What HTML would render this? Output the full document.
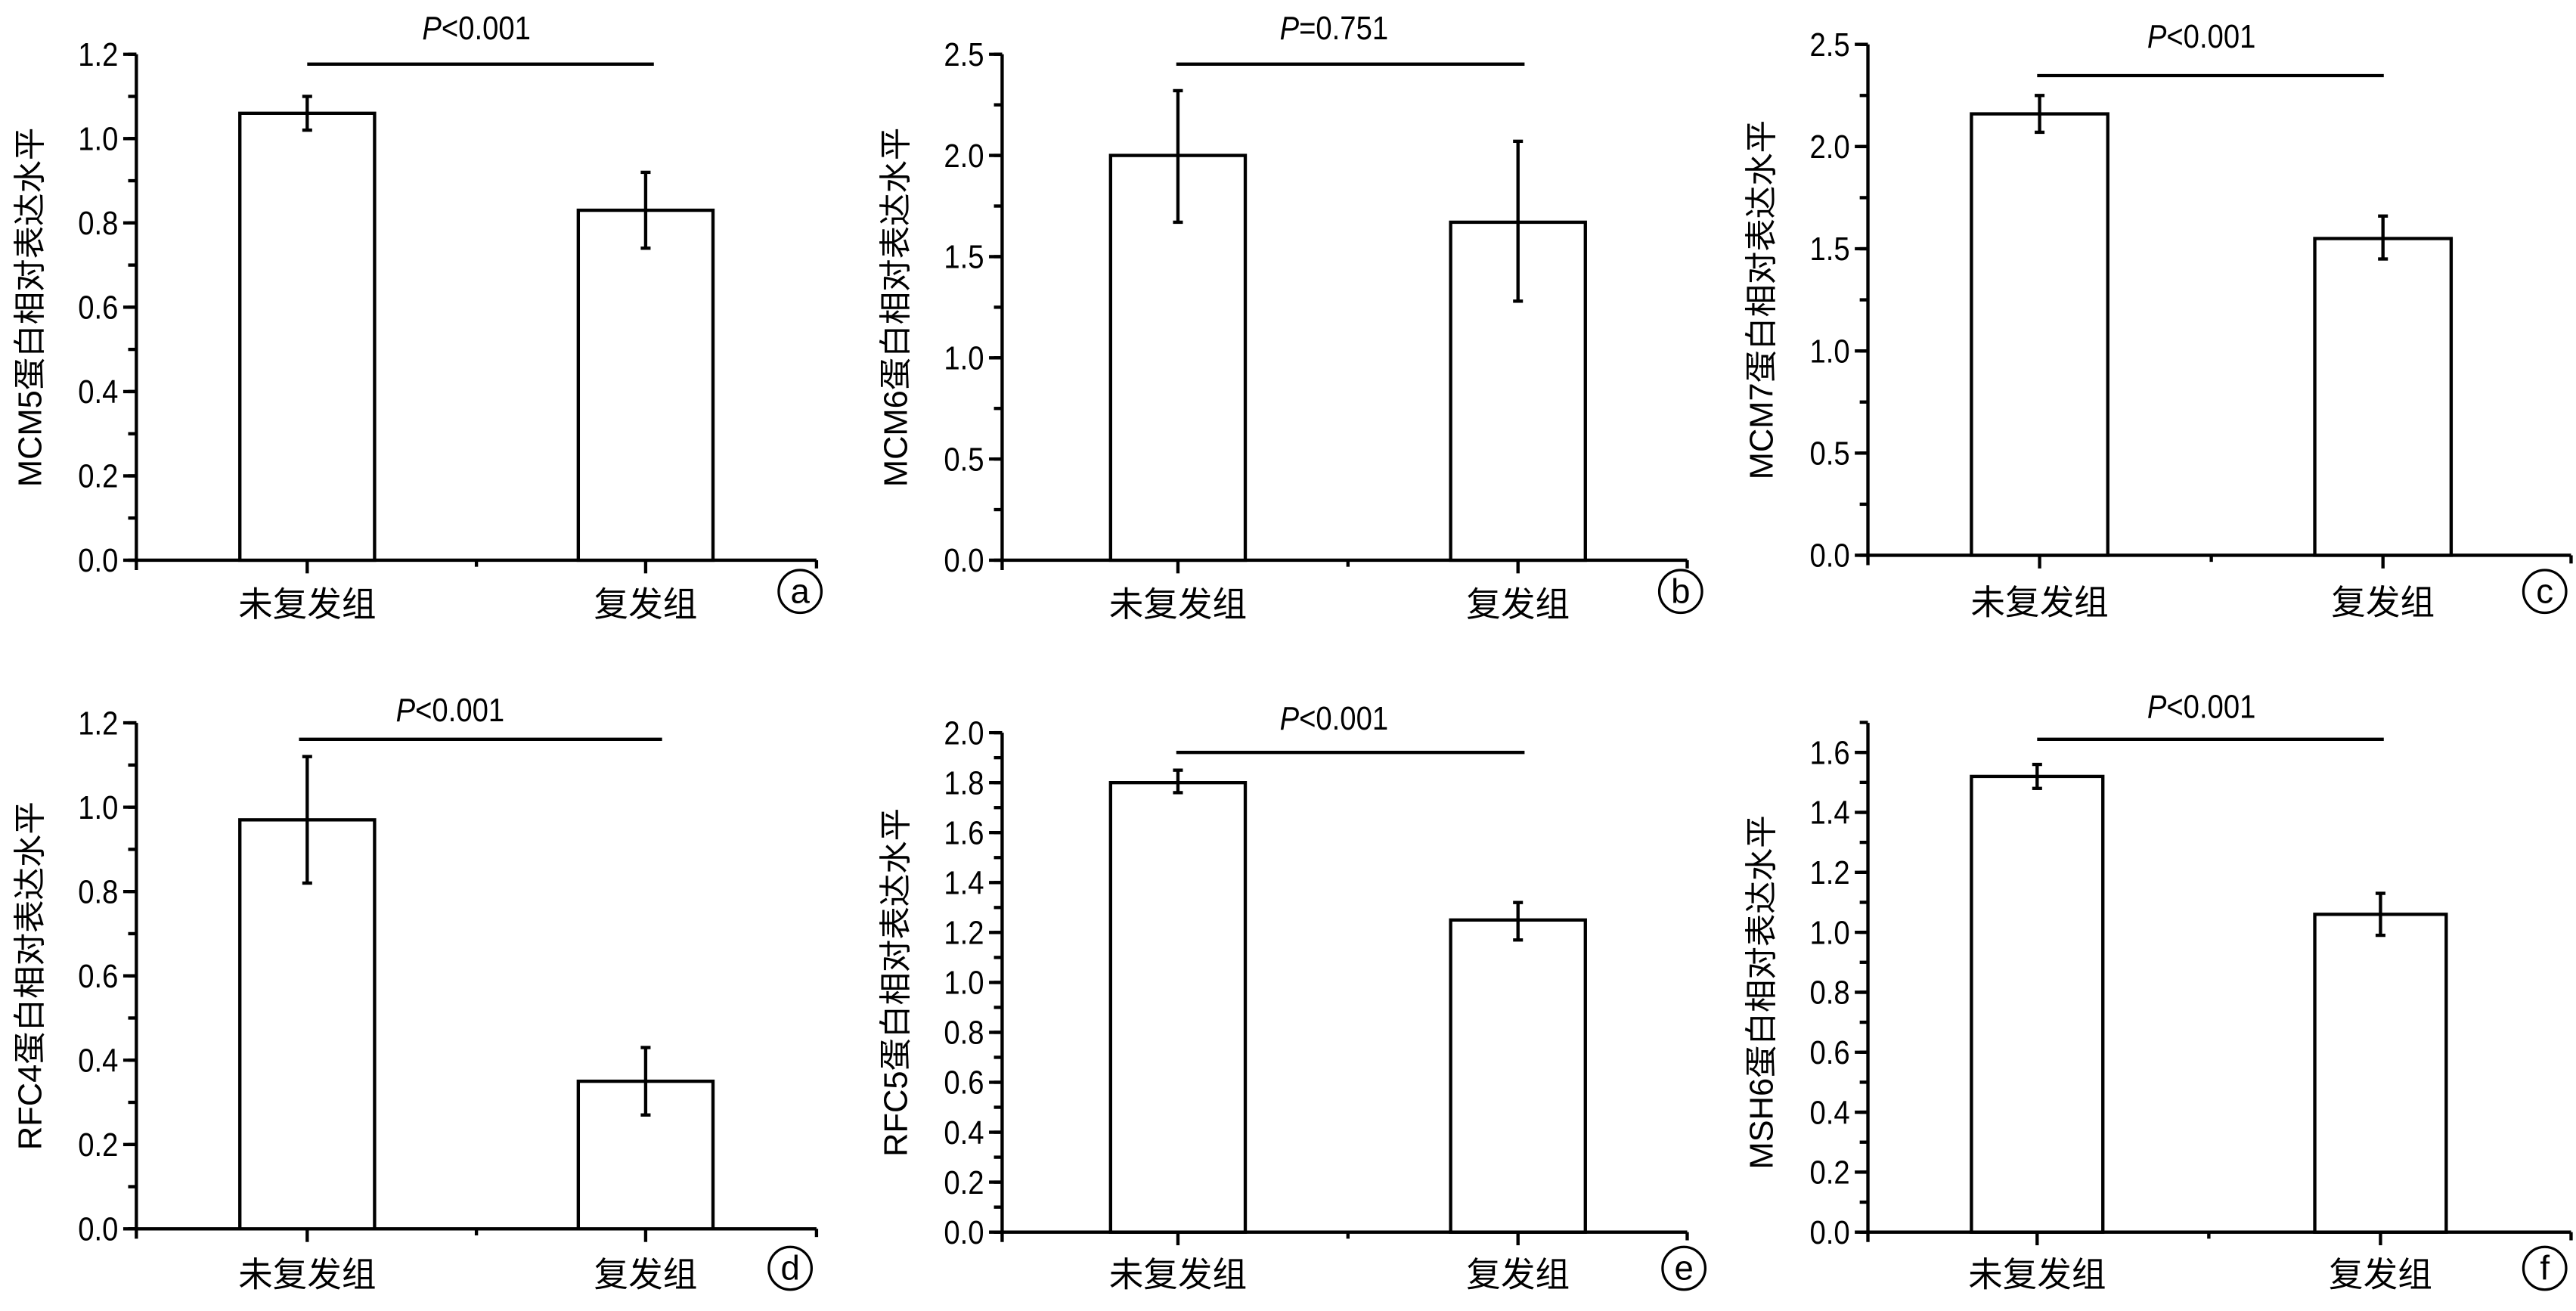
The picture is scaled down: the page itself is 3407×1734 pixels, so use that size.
<!DOCTYPE html>
<html><head><meta charset="utf-8"><style>
html,body{margin:0;padding:0;background:#fff;}
svg{display:block;}
text{fill:#000;}
.t{font-family:"Liberation Sans Narrow","Liberation Sans",sans-serif;font-size:20px;}
.c{font-family:"Liberation Sans","Noto Sans CJK SC",sans-serif;font-size:21px;}
.y{font-family:"Liberation Sans","Noto Sans CJK SC",sans-serif;font-size:20px;}
</style></head><body>
<svg id="s" width="3407" height="1734" viewBox="0 0 1568 798" xmlns="http://www.w3.org/2000/svg"></svg>
<script>
const P=[
 {ax:83,y0:341,ytop:33,vmax:1.2,step:0.2,minor:0.1,xend:497,xlabY:375,b:[[146,228,1.06,1.02,1.10],[352,434,0.83,0.74,0.92]],sig:[187,398,39],pt:'<0.001',px:290,py:24,circ:[487,360,'a'],yl:'MCM5蛋白相对表达水平',ylx:18},
 {ax:610,y0:341,ytop:33,vmax:2.5,step:0.5,minor:0.25,xend:1027,xlabY:375,b:[[676,758,2.0,1.67,2.32],[883,965,1.67,1.28,2.07]],sig:[716,928,39],pt:'=0.751',px:812,py:24,circ:[1023,360,'b'],yl:'MCM6蛋白相对表达水平',ylx:545},
 {ax:1137,y0:338,ytop:27,vmax:2.5,step:0.5,minor:0.25,xend:1565,xlabY:374,b:[[1200,1283,2.16,2.07,2.25],[1409,1492,1.55,1.45,1.66]],sig:[1240,1451,46],pt:'<0.001',px:1340,py:29,circ:[1549,360,'c'],yl:'MCM7蛋白相对表达水平',ylx:1072},
 {ax:83,y0:748,ytop:440,vmax:1.2,step:0.2,minor:0.1,xend:497,xlabY:783,b:[[146,228,0.97,0.82,1.12],[352,434,0.35,0.27,0.43]],sig:[182,403,450],pt:'<0.001',px:274,py:439,circ:[481,772,'d'],yl:'RFC4蛋白相对表达水平',ylx:18},
 {ax:610,y0:750,ytop:446,vmax:2.0,step:0.2,minor:0.1,xend:1027,xlabY:783,b:[[676,758,1.80,1.76,1.85],[883,965,1.25,1.17,1.32]],sig:[716,928,458],pt:'<0.001',px:812,py:444,circ:[1025,772,'e'],yl:'RFC5蛋白相对表达水平',ylx:545},
 {ax:1137,y0:750,ytop:458,vmax:1.6,step:0.2,minor:0.1,xend:1565,xlabY:783,b:[[1200,1280,1.52,1.48,1.56],[1409,1489,1.06,0.99,1.13]],sig:[1240,1451,450],pt:'<0.001',px:1340,py:437,circ:[1549,772,'f'],yl:'MSH6蛋白相对表达水平',ylx:1072,axtop:440}
];
let h='';
const L=(a,b,c,d,w)=>`<line x1="${a}" y1="${b}" x2="${c}" y2="${d}" stroke="#000" stroke-width="${w||2}"/>`;
const T=(x,y,anchor,content)=>`<text class="t" transform="translate(${x},${y}) scale(0.88,1)" text-anchor="${anchor}">${content}</text>`;
for(const p of P){
 const k=(p.y0-p.ytop)/p.vmax, Y=v=>p.y0-v*k;
 const top=p.axtop||p.ytop;
 h+=L(p.ax,top,p.ax,p.y0+6);
 h+=L(p.ax-1,p.y0,p.xend,p.y0);
 h+=L(p.xend,p.y0,p.xend,p.y0+5);
 const n=Math.round(p.vmax/p.minor);
 for(let i=0;i<=n;i++){const v=i*p.minor,y=Y(v);h+=L(p.ax-5,y,p.ax,y);}
 if(p.axtop){h+=L(p.ax-5,Y(1.7),p.ax,Y(1.7));}
 const m=Math.round(p.vmax/p.step);
 for(let i=0;i<=m;i++){const v=i*p.step,y=Y(v);h+=L(p.ax-8,y,p.ax,y);h+=T(p.ax-11,y+7,'end',v.toFixed(1));}
 const c1=(p.b[0][0]+p.b[0][1])/2,c2=(p.b[1][0]+p.b[1][1])/2;
 h+=L(c1,p.y0,c1,p.y0+8)+L(c2,p.y0,c2,p.y0+8)+L((c1+c2)/2,p.y0,(c1+c2)/2,p.y0+4);
 for(const b of p.b){
  const cx=(b[0]+b[1])/2;
  h+=`<rect x="${b[0]}" y="${Y(b[2])}" width="${b[1]-b[0]}" height="${p.y0-Y(b[2])}" fill="#fff" stroke="#000" stroke-width="2"/>`;
  h+=L(cx,Y(b[3]),cx,Y(b[4]))+L(cx-3,Y(b[3]),cx+3,Y(b[3]))+L(cx-3,Y(b[4]),cx+3,Y(b[4]));
 }
 h+=L(p.sig[0],p.sig[2],p.sig[1],p.sig[2]);
 h+=T(p.px,p.py,'middle',`<tspan font-style="italic">P</tspan>${p.pt}`);
 h+=`<text class="c" x="${c1}" y="${p.xlabY}" text-anchor="middle">未复发组</text>`;
 h+=`<text class="c" x="${c2}" y="${p.xlabY}" text-anchor="middle">复发组</text>`;
 const [cx,cy,ch]=p.circ;
 h+=`<circle cx="${cx}" cy="${cy}" r="13" fill="none" stroke="#000" stroke-width="1.5"/><text class="c" x="${cx}" y="${cy+7}" text-anchor="middle">${ch}</text>`;
 const ym=(p.ytop+p.y0)/2;
 h+=`<text class="y" transform="translate(${p.ylx+7},${ym}) rotate(-90)" text-anchor="middle">${p.yl}</text>`;
}
document.getElementById('s').innerHTML=h;
</script>
</body></html>
